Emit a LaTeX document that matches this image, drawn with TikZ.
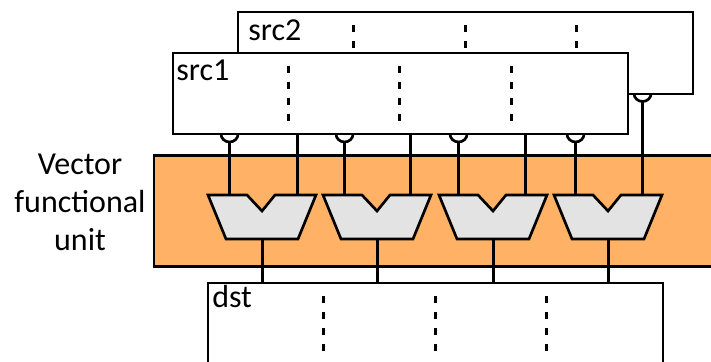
\documentclass[tikz,border=0pt]{standalone}
\usepackage{fontspec}
\setmainfont{Carlito}
\definecolor{unitorange}{HTML}{FFB266}
\definecolor{muxgray}{HTML}{E3E3E3}
\tikzset{
  x=0.75pt,y=-0.75pt,
  regbox/.style={draw=black,line width=2.1pt,fill=white,rectangle,inner sep=0pt,outer sep=0pt,anchor=north west},
  unitbox/.style={draw=black,line width=2.1pt,fill=unitorange,rectangle,inner sep=0pt,outer sep=0pt,anchor=north west},
  mux/.style={draw=black,line width=2pt,fill=muxgray,line join=miter},
  wire/.style={draw=black,line width=2.25pt},
  bubble/.style={draw=black,line width=2pt},
  lane/.style={draw=black,line width=2.25pt,dash pattern=on 5.6pt off 6.4pt},
  lbl/.style={font=\fontsize{24pt}{28pt}\selectfont,inner sep=0pt,anchor=base west},
  unitlbl/.style={font=\fontsize{24pt}{28.5pt}\selectfont,inner sep=0pt,align=center}
}
\begin{document}
\begin{tikzpicture}
\useasboundingbox (0,0) rectangle (711,361);
\clip (0,0) rectangle (711,361);
% registers
\node[regbox,minimum width=341.25pt,minimum height=61.5pt] (src2) at (238,12) {};
\node[regbox,minimum width=341.25pt,minimum height=60.75pt] (src1) at (173,53) {};
\node[unitbox,minimum width=450pt,minimum height=83.25pt] (unit) at (154,155.5) {};
\node[regbox,minimum width=341.25pt,minimum height=90pt] (dst) at (208,283) {};
\node[lbl] (src2lbl) at (248,40) {src2};
\node[lbl] (src1lbl) at (176,80) {src1};
\node[lbl] (dstlbl) at (212,307) {dst};
\node[unitlbl] (unitlbl) at (80,202) {Vector\\functional\\unit};
% lane separators
\foreach \n/\x in {a/353.5,b/465.5,c/576.5}{
  \coordinate (s2\n t) at (\x,25); \coordinate (s2\n b) at (\x,50);
  \draw[lane] (s2\n t) -- (s2\n b);}
\foreach \n/\x in {a/288.5,b/399.5,c/511.5}{
  \coordinate (s1\n t) at (\x,66); \coordinate (s1\n b) at (\x,123);
  \draw[lane] (s1\n t) -- (s1\n b);}
\foreach \n/\x in {a/323.5,b/435.5,c/546.5}{
  \coordinate (d\n t) at (\x,296); \coordinate (d\n b) at (\x,353);
  \draw[lane] (d\n t) -- (d\n b);}
% functional units
\foreach \i/\o in {1/0,2/115,3/231,4/346}{
  \begin{scope}[xshift=\o*0.75pt]
    \draw[mux] (208,195) -- (247,195) -- (262,211) -- (275,195) -- (316,195)
      -- (298,239) -- (226,239) -- cycle;
    \coordinate (out\i) at (262.5,239);
    \coordinate (dst\i) at (262.5,283);
    \draw[wire] (out\i) -- (dst\i);
  \end{scope}}
% inputs with inverting bubbles
\foreach \i/\x/\y in {1/229.5/297.5,2/344.5/410.5,3/458.5/525.5,4/575.5/642.5}{
  \coordinate (ina\i) at (\x,195);
  \coordinate (inb\i) at (\y,195);
  \coordinate (bub\i) at (\x,142);
  \draw[bubble] (\x-8.5,134) arc[start angle=180,end angle=360,x radius=6.4pt,y radius=6pt];
  \draw[wire] (bub\i) -- (ina\i);
}
\foreach \i/\y in {1/297.5,2/410.5,3/525.5}{
  \coordinate (top\i) at (\y,133);
  \draw[wire] (top\i) -- (inb\i);
}
\coordinate (bubr) at (642.5,101.5);
\draw[bubble] (634,93.5) arc[start angle=180,end angle=360,x radius=6.4pt,y radius=6pt];
\draw[wire] (bubr) -- (inb4);
\end{tikzpicture}
\end{document}
